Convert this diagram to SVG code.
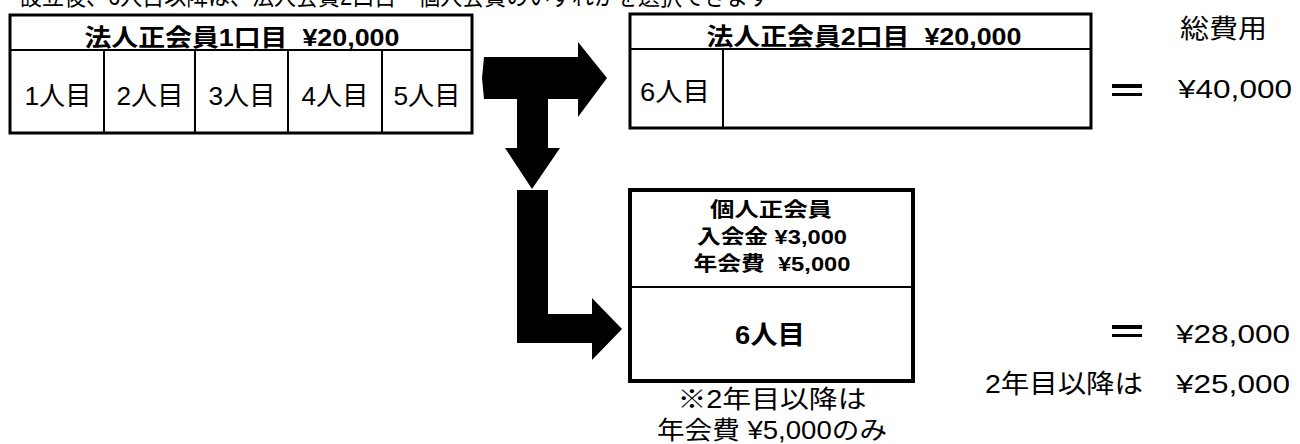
<svg xmlns="http://www.w3.org/2000/svg" width="1300" height="444" viewBox="0 0 1300 444">
<style>
text{font-family:"Liberation Sans","Noto Sans CJK JP",sans-serif;fill:#000;white-space:pre}
.b{font-weight:bold}
.box{fill:#fff;stroke:#000;stroke-width:3}
.box3{fill:#fff;stroke:#000;stroke-width:4}
.div{stroke:#000;stroke-width:2;fill:none}
.arrow{fill:#000;stroke:none}
.c{text-anchor:middle}
</style>
<rect width="1300" height="444" fill="#fff"/>
<text x="20" y="5" font-size="25" textLength="750" lengthAdjust="spacingAndGlyphs">設立後、6人目以降は、法人会費2口目・個人会費のいずれかを選択できます</text>

<g id="node-corp1">
<rect class="box" x="10" y="15" width="462" height="118"/>
<line class="div" x1="10" y1="50" x2="472" y2="50"/>
<line class="div" x1="104" y1="50" x2="104" y2="133"/>
<line class="div" x1="195" y1="50" x2="195" y2="133"/>
<line class="div" x1="288" y1="50" x2="288" y2="133"/>
<line class="div" x1="382" y1="50" x2="382" y2="133"/>
<text class="b c" x="242" y="46" font-size="24" textLength="315" lengthAdjust="spacingAndGlyphs">法人正会員1口目  ¥20,000</text>
<text class="c" x="58" y="105" font-size="26" textLength="67" lengthAdjust="spacingAndGlyphs">1人目</text>
<text class="c" x="150" y="105" font-size="26" textLength="67" lengthAdjust="spacingAndGlyphs">2人目</text>
<text class="c" x="242" y="105" font-size="26" textLength="67" lengthAdjust="spacingAndGlyphs">3人目</text>
<text class="c" x="335" y="105" font-size="26" textLength="67" lengthAdjust="spacingAndGlyphs">4人目</text>
<text class="c" x="427" y="105" font-size="26" textLength="67" lengthAdjust="spacingAndGlyphs">5人目</text>
</g>

<g id="node-corp2">
<rect class="box" x="630" y="14" width="461" height="114"/>
<line class="div" x1="630" y1="49" x2="1091" y2="49"/>
<line class="div" x1="723" y1="49" x2="723" y2="128"/>
<text class="b c" x="864" y="45" font-size="24" textLength="315" lengthAdjust="spacingAndGlyphs">法人正会員2口目  ¥20,000</text>
<text class="c" x="675" y="101" font-size="26" textLength="70" lengthAdjust="spacingAndGlyphs">6人目</text>
</g>

<g id="node-indiv">
<rect class="box3" x="630" y="190" width="283" height="191"/>
<line class="div" x1="630" y1="287" x2="913" y2="287" stroke-width="3"/>
<text class="b c" x="771" y="217" font-size="20" textLength="122" lengthAdjust="spacingAndGlyphs">個人正会員</text>
<text class="b c" x="772" y="244" font-size="20" textLength="150" lengthAdjust="spacingAndGlyphs">入会金 ¥3,000</text>
<text class="b c" x="772" y="271" font-size="20" textLength="157" lengthAdjust="spacingAndGlyphs">年会費  ¥5,000</text>
<text class="b c" x="770" y="344" font-size="26" textLength="70" lengthAdjust="spacingAndGlyphs">6人目</text>
</g>

<g id="note-indiv">
<text class="c" x="772" y="408" font-size="25" textLength="189" lengthAdjust="spacingAndGlyphs">※2年目以降は</text>
<text class="c" x="772" y="439" font-size="25" textLength="230" lengthAdjust="spacingAndGlyphs">年会費 ¥5,000のみ</text>
</g>

<g id="totals">
<text x="1180" y="38" font-size="26" textLength="87" lengthAdjust="spacingAndGlyphs">総費用</text>
<rect x="1112" y="84" width="30" height="4" fill="#000"/>
<rect x="1112" y="93" width="30" height="3" fill="#000"/>
<text x="1178" y="98" font-size="26" textLength="114" lengthAdjust="spacingAndGlyphs">¥40,000</text>
<rect x="1112" y="325" width="30" height="4" fill="#000"/>
<rect x="1112" y="334" width="30" height="3" fill="#000"/>
<text x="1176" y="343" font-size="26" textLength="114" lengthAdjust="spacingAndGlyphs">¥28,000</text>
<text x="985" y="393" font-size="26" textLength="158" lengthAdjust="spacingAndGlyphs">2年目以降は</text>
<text x="1176" y="393" font-size="26" textLength="114" lengthAdjust="spacingAndGlyphs">¥25,000</text>
</g>

<g id="connectors">
<polygon class="arrow" points="484,57 578,57 578,42 607,78 578,117 578,99 548,99 548,148 560,148 532,189 505,148 517,148 517,99 484,99 482,78"/>
<polygon class="arrow" points="517,190 548,190 548,314 592,314 592,298 622,329 592,360 592,343 517,343"/>
</g>
</svg>
